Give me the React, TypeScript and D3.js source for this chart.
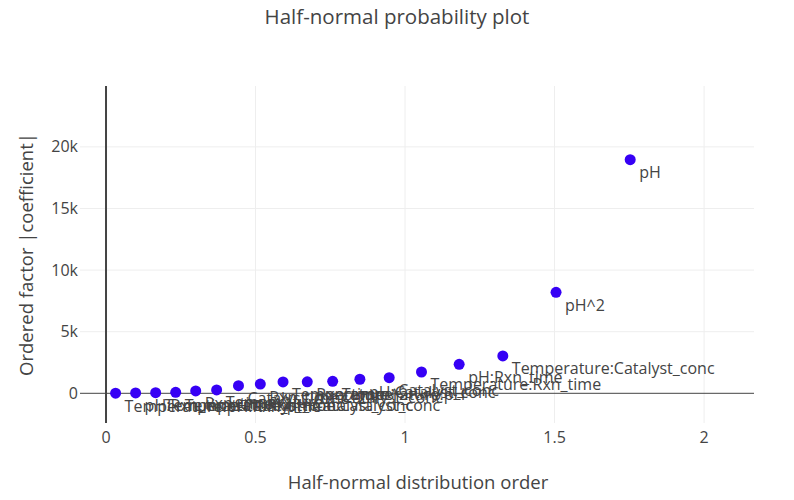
import * as d3 from "d3";

// half-normal quantiles (x) and |coefficient| (y)
const order = [0.032, 0.099, 0.166, 0.233, 0.3, 0.37, 0.443, 0.516, 0.592, 0.673, 0.758, 0.849, 0.947, 1.055, 1.181, 1.327, 1.505, 1.753];
const coef = [10, 30, 50, 80, 190, 270, 620, 750, 920, 930, 975, 1140, 1270, 1730, 2350, 3030, 8200, 18960];
const terms = [
  "Temperature:pH:Rxn_time",
  "pH:Rxn_time:Catalyst_conc",
  "Temperature:Rxn_time:Catalyst_conc",
  "Temperature:pH:Catalyst_conc",
  "Rxn_time^2",
  "Temperature",
  "Catalyst_conc^2",
  "Rxn_time:Catalyst_conc",
  "Temperature^2",
  "Rxn_time",
  "Temperature:pH",
  "pH:Catalyst_conc",
  "Catalyst_conc",
  "Temperature:Rxn_time",
  "pH:Rxn_time",
  "Temperature:Catalyst_conc",
  "pH^2",
  "pH",
];
const xTicks = [0, 0.5, 1, 1.5, 2];
const yTicks = [0, 5000, 10000, 15000, 20000];

const W = 794;
const H = 500;
const margin = { top: 86, right: 40, bottom: 77, left: 80 };
const font = '"Open Sans", verdana, arial, sans-serif';
const ink = "#444";

export default function App() {
  const x = d3.scaleLinear().domain([-0.087, 2.167]).range([margin.left, W - margin.right]);
  const y = d3.scaleLinear().domain([-2410, 24940]).range([H - margin.bottom, margin.top]);
  const fmtY = (v: number) => (v === 0 ? "0" : d3.format("~s")(v));

  return (
    <svg
      width={W}
      height={H}
      style={{ position: "absolute", left: 0, top: 0, background: "#fff" }}
      fontFamily={font}
    >
      {/* grid */}
      {xTicks.filter((t) => t !== 0).map((t) => (
        <line key={"gx" + t} x1={x(t)} x2={x(t)} y1={margin.top} y2={H - margin.bottom} stroke="#eee" />
      ))}
      {yTicks.filter((t) => t !== 0).map((t) => (
        <line key={"gy" + t} x1={margin.left} x2={W - margin.right} y1={y(t)} y2={y(t)} stroke="#eee" />
      ))}

      {/* zero lines */}
      <line x1={margin.left} x2={W - margin.right} y1={y(0)} y2={y(0)} stroke={ink} strokeWidth={1} />
      <line x1={x(0)} x2={x(0)} y1={margin.top} y2={H - margin.bottom} stroke={ink} strokeWidth={2} />

      {/* tick labels */}
      {xTicks.map((t) => (
        <text key={"tx" + t} x={x(t)} y={H - margin.bottom + 20} textAnchor="middle" fontSize={16} fill={ink}>
          {t}
        </text>
      ))}
      {yTicks.map((t) => (
        <text key={"ty" + t} x={margin.left - 2} y={y(t) + 5.5} textAnchor="end" fontSize={16} fill={ink}>
          {fmtY(t)}
        </text>
      ))}

      {/* points */}
      {order.map((v, i) => (
        <circle key={"p" + i} cx={x(v)} cy={y(coef[i])} r={5.5} fill="#3600f5" />
      ))}
      {order.map((v, i) => (
        <text key={"l" + i} x={x(v) + 9} y={y(coef[i]) + 18.5} fontSize={16} fill={ink}>
          {terms[i]}
        </text>
      ))}

      {/* titles */}
      <text x={W / 2} y={24} textAnchor="middle" fontSize={20.5} fill={ink}>
        Half-normal probability plot
      </text>
      <text x={(margin.left + W - margin.right) / 2 + 1} y={489} textAnchor="middle" fontSize={18.5} fill={ink}>
        Half-normal distribution order
      </text>
      <text
        transform={`translate(33,${(margin.top + H - margin.bottom) / 2}) rotate(-90)`}
        textAnchor="middle"
        fontSize={18.5}
        fill={ink}
      >
        Ordered factor |coefficient|
      </text>
    </svg>
  );
}
